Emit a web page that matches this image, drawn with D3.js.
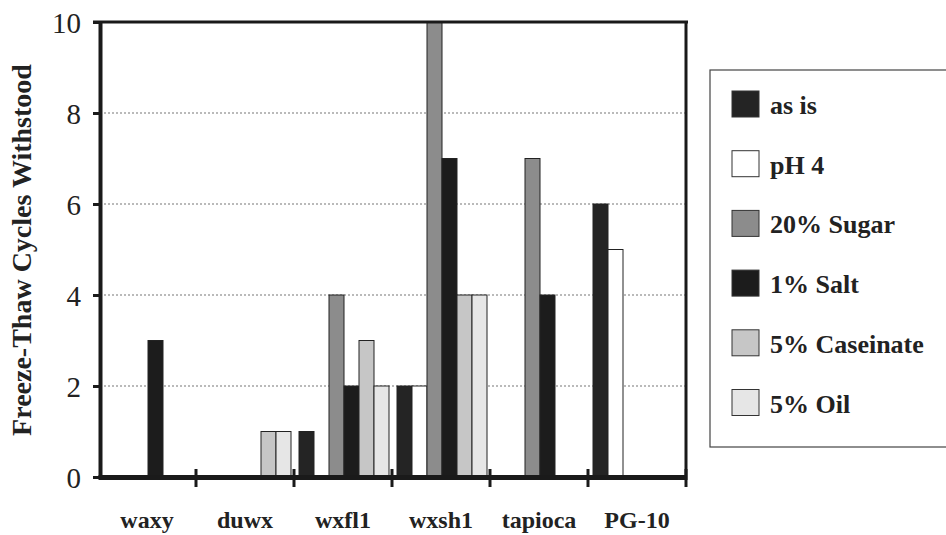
<!DOCTYPE html>
<html>
<head>
<meta charset="utf-8">
<script src="https://cdn.jsdelivr.net/npm/d3@7"></script>
<style>
  body { margin: 0; background: #fff; }
  svg { display: block; }
</style>
</head>
<body>
<div id="chart"></div>
<script>
"use strict";

var categories = ["waxy", "duwx", "wxfl1", "wxsh1", "tapioca", "PG-10"];
var seriesNames = ["as is", "pH 4", "20% Sugar", "1% Salt", "5% Caseinate", "5% Oil"];
var seriesColors = ["#242424", "#ffffff", "#8c8c8c", "#1c1c1c", "#c6c6c6", "#e6e6e6"];
// one array per series, ordered like categories
var asIs      = [0, 0, 1, 2, 0, 6];
var pH4       = [0, 0, 0, 2, 0, 5];
var sugar     = [0, 0, 4, 10, 7, 0];
var salt      = [3, 0, 2, 7, 4, 0];
var caseinate = [0, 1, 3, 4, 0, 0];
var oil       = [0, 1, 2, 4, 0, 0];
var yTicks = [0, 2, 4, 6, 8, 10];

var seriesValues = [asIs, pH4, sugar, salt, caseinate, oil];

var width = 946, height = 535;
var serif = "'Liberation Serif', 'Times New Roman', 'DejaVu Serif', serif";

var svg = d3.select("#chart").append("svg")
	.attr("width", width)
	.attr("height", height);

var x0 = d3.scaleBand().domain(categories).range([98, 686]);
var x1 = d3.scaleBand().domain(seriesNames).range([5, x0.bandwidth() - 3]);
var y = d3.scaleLinear().domain([0, 10]).range([477, 22]);

// grid lines
svg.append("g")
	.selectAll("line")
	.data(yTicks.filter(function(d) { return d > 0 && d < 10; }))
	.enter().append("line")
	.attr("x1", 100).attr("x2", 686)
	.attr("y1", function(d) { return y(d); })
	.attr("y2", function(d) { return y(d); })
	.attr("stroke", "#777")
	.attr("stroke-width", 1.2)
	.attr("stroke-dasharray", "2,2");

// bars
var rows = [];
categories.forEach(function(c, ci) {
	seriesNames.forEach(function(s, si) {
		rows.push({cat: c, series: s, si: si, value: seriesValues[si][ci]});
	});
});

svg.append("g")
	.selectAll("rect")
	.data(rows.filter(function(d) { return d.value > 0; }))
	.enter().append("rect")
	.attr("x", function(d) { return x0(d.cat) + x1(d.series); })
	.attr("y", function(d) { return y(d.value); })
	.attr("width", x1.bandwidth())
	.attr("height", function(d) { return y(0) - y(d.value); })
	.attr("fill", function(d) { return seriesColors[d.si]; })
	.attr("stroke", "#222")
	.attr("stroke-width", 1);

// frame top / right
svg.append("line").attr("x1", 93).attr("x2", 688).attr("y1", 22).attr("y2", 22)
	.attr("stroke", "#1a1a1a").attr("stroke-width", 3);
svg.append("line").attr("x1", 686).attr("x2", 686).attr("y1", 22).attr("y2", 480)
	.attr("stroke", "#1a1a1a").attr("stroke-width", 3);

// y axis
var yAxis = svg.append("g")
	.attr("transform", "translate(100,0)")
	.call(d3.axisLeft(y).tickValues(yTicks).tickSize(7).tickPadding(12).tickSizeOuter(0));
yAxis.select(".domain").attr("stroke", "#1a1a1a").attr("stroke-width", 4);
yAxis.selectAll(".tick line").attr("stroke", "#1a1a1a").attr("stroke-width", 3);
yAxis.selectAll(".tick text")
	.attr("font-family", serif)
	.attr("font-size", 29)
	.attr("fill", "#222")
	.attr("dy", "0.35em");

// x axis
var xAxis = svg.append("g")
	.attr("transform", "translate(0,477)")
	.call(d3.axisBottom(x0).tickSize(0).tickPadding(34));
xAxis.select(".domain").attr("stroke", "#1a1a1a").attr("stroke-width", 5);
xAxis.selectAll(".tick text")
	.attr("font-family", serif)
	.attr("font-size", 24)
	.attr("font-weight", "bold")
	.attr("fill", "#222");

// category boundary ticks
svg.append("g")
	.selectAll("line")
	.data(categories.slice(1).concat(["end"]))
	.enter().append("line")
	.attr("x1", function(d) { return d === "end" ? 686 : x0(d); })
	.attr("x2", function(d) { return d === "end" ? 686 : x0(d); })
	.attr("y1", 469).attr("y2", 487)
	.attr("stroke", "#1a1a1a").attr("stroke-width", 3);

// y title
svg.append("text")
	.attr("transform", "translate(31,250) rotate(-90)")
	.attr("text-anchor", "middle")
	.attr("font-family", serif)
	.attr("font-size", 28)
	.attr("font-weight", "bold")
	.attr("fill", "#222")
	.text("Freeze-Thaw Cycles Withstood");

// legend
var legendG = svg.append("g");
legendG.append("rect")
	.attr("x", 710).attr("y", 70)
	.attr("width", 260).attr("height", 377)
	.attr("fill", "none")
	.attr("stroke", "#444").attr("stroke-width", 1.2);

var legend = legendG.selectAll(".legend")
	.data(seriesNames)
	.enter().append("g")
	.attr("class", "legend")
	.attr("transform", function(d, i) { return "translate(732," + (91 + i * 59.7) + ")"; });

legend.append("rect")
	.attr("width", 27).attr("height", 26)
	.attr("fill", function(d, i) { return seriesColors[i]; })
	.attr("stroke", "#333").attr("stroke-width", 1);
legend.append("text")
	.attr("x", 38).attr("y", 23)
	.attr("font-family", serif)
	.attr("font-size", 26)
	.attr("font-weight", "bold")
	.attr("fill", "#222")
	.text(function(d) { return d; });
</script>
</body>
</html>
